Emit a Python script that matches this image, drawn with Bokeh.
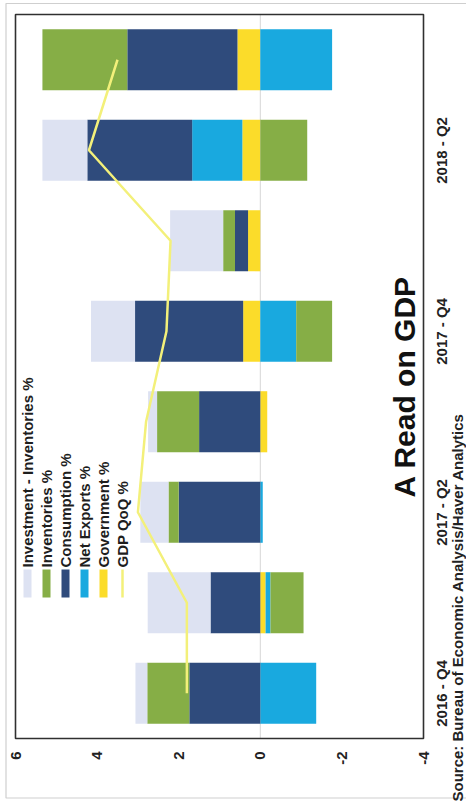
import math

from bokeh.core.properties import value
from bokeh.embed import file_html
from bokeh.models import FixedTicker, Label, LinearAxis, Range1d
from bokeh.plotting import figure
from bokeh.resources import INLINE

# ---- data: contributions to real GDP growth (percentage points) ----
quarters = ["2016 - Q4", "2017 - Q1", "2017 - Q2", "2017 - Q3",
            "2017 - Q4", "2018 - Q1", "2018 - Q2", "2018 - Q3"]
government = [0.0, -0.13, 0.0, -0.17, 0.42, 0.30, 0.44, 0.56]
net_exports = [-1.37, -0.12, -0.06, 0.0, -0.88, 0.0, 1.23, -1.76]
consumption = [1.74, 1.22, 2.00, 1.50, 2.65, 0.32, 2.57, 2.70]
inventories = [1.03, -0.81, 0.25, 1.03, -0.88, 0.29, -1.15, 2.08]
investment_ex_inv = [0.29, 1.54, 0.69, 0.22, 1.08, 1.30, 1.10, 0.0]
gdp_qoq = [1.8, 1.8, 3.0, 2.8, 2.3, 2.2, 4.2, 3.5]
value_ticks = [6, 4, 2, 0, -2, -4]
legend_labels = ["Investment - Inventories %", "Inventories %", "Consumption %",
                 "Net Exports %", "Government %", "GDP QoQ %"]
source_note = "Source: Bureau of Economic Analysis/Haver Analytics"

# ---- styling ----
C_INVEST = "#dde2f2"
C_INV = "#86ae46"
C_CONS = "#2f4b7c"
C_NX = "#19a9df"
C_GOV = "#fbdc2a"
C_GDP = "#f3f07a"
C_BOX = "#303030"
FONT = value("Liberation Sans")

# The plotting frame fills the whole canvas; the boxed chart area sits inside it
# so that the rotated tick labels and the source note can be placed freely.
W, H = 466, 803
BOX_L, BOX_T, BOX_W, BOX_H = 15, 14, 408, 724
X0, X1 = 6, -4          # value axis runs right-to-left
Y0, Y1 = -0.5, len(quarters) - 0.5
PX_PER_X = BOX_W / (X0 - X1)
PX_PER_Y = BOX_H / (Y1 - Y0)


def sx(px):
    """canvas pixel column -> value coordinate"""
    return X0 - (px - BOX_L) / PX_PER_X


def sy(py):
    """canvas pixel row -> quarter-index coordinate"""
    return Y1 - (py - BOX_T) / PX_PER_Y


p = figure(width=W, height=H,
           x_range=Range1d(sx(0), sx(W)), y_range=Range1d(sy(H), sy(0)),
           y_axis_location="right",
           output_backend="svg", toolbar_location=None,
           min_border=0, min_border_left=0, min_border_right=0,
           min_border_top=0, min_border_bottom=0,
           background_fill_color="white", border_fill_color="white")
p.grid.visible = False
p.outline_line_color = None

# page edge
p.quad(left=[sx(5.5)], right=[sx(W + 10)], top=[sy(3)], bottom=[sy(797.5)],
       fill_color=None, line_color="#cfcfcf", line_width=1.2)

# zero line
p.segment(x0=[0], y0=[Y0], x1=[0], y1=[Y1], line_color="#d6d6d6", line_width=1)

# ---- stacked bars: positives and negatives stacked separately ----
idx = list(range(len(quarters)))
stack = [(government, C_GOV), (net_exports, C_NX), (consumption, C_CONS),
         (inventories, C_INV), (investment_ex_inv, C_INVEST)]
pos = [0.0] * len(quarters)
neg = [0.0] * len(quarters)
for vals, color in stack:
    left, right = [], []
    for i, v in enumerate(vals):
        if v >= 0:
            start = pos[i]
            pos[i] += v
        else:
            start = neg[i]
            neg[i] += v
        left.append(start)
        right.append(start + v)
    p.hbar(y=idx, left=left, right=right, height=0.675,
           fill_color=color, line_color=None)

# GDP growth line
p.line(x=gdp_qoq, y=idx, line_color=C_GDP, line_width=2.5)

# chart box
p.quad(left=[X0], right=[X1], top=[Y1], bottom=[Y0],
       fill_color=None, line_color=C_BOX, line_width=1.6)


def plain_axis(ax, standoff, size="15px"):
    ax.axis_line_color = None
    ax.major_tick_line_color = None
    ax.minor_tick_line_color = None
    ax.major_tick_out = 0
    ax.major_tick_in = 0
    ax.major_label_orientation = math.pi / 2
    ax.major_label_standoff = standoff
    ax.major_label_text_font = "Liberation Sans"
    ax.major_label_text_font_style = "bold"
    ax.major_label_text_font_size = size
    ax.major_label_text_color = "#222222"


# ---- axes, pinned to the chart box edges ----
xa = p.xaxis[0]
xa.ticker = FixedTicker(ticks=value_ticks)
xa.major_label_overrides = {v: f"{v:g}" for v in value_ticks}
xa.fixed_location = Y0
plain_axis(xa, 13)

# quarter labels on every other bar; rotated labels start at their tick,
# so each tick sits half a label length below the bar centre
ya = p.yaxis[0]
half_label = 33.5 / PX_PER_Y
label_rows = list(range(0, len(quarters), 2))
label_ticks = [i - half_label for i in label_rows]
ya.ticker = FixedTicker(ticks=label_ticks)
ya.major_label_overrides = {t: quarters[i] for t, i in zip(label_ticks, label_rows)}
ya.fixed_location = X1
plain_axis(ya, 18)

# source note, set as the single label of an outer right-hand axis
SRC_TICK = sy(801)
src_axis = LinearAxis(ticker=FixedTicker(ticks=[SRC_TICK]),
                      major_label_overrides={SRC_TICK: source_note},
                      fixed_location=X1)
plain_axis(src_axis, 34, "15px")
p.add_layout(src_axis, "right")

# ---- legend (rotated, drawn with glyphs) ----
leg_px = [27, 46, 65, 84, 103, 122]
leg_colors = [C_INVEST, C_INV, C_CONS, C_NX, C_GOV]
p.text(x=[sx(v) for v in leg_px], y=[sy(567)] * len(leg_px), text=legend_labels,
       angle=math.pi / 2, text_align="left", text_baseline="middle",
       text_font=FONT, text_font_style="bold", text_font_size="15px",
       text_color="#1e1e1e")
p.rect(x=[sx(v) for v in leg_px[:5]], y=[sy(583)] * 5, width=8, height=28,
       width_units="screen", height_units="screen",
       fill_color=leg_colors, line_color=None)
p.segment(x0=[sx(leg_px[5])], y0=[sy(569)], x1=[sx(leg_px[5])], y1=[sy(597)],
          line_color=C_GDP, line_width=2.5)

# ---- title ----
p.add_layout(Label(x=sx(404), y=sy(497), text="A Read on GDP", angle=math.pi / 2,
                   text_align="left", text_baseline="middle",
                   text_font="Liberation Sans", text_font_style="bold",
                   text_font_size="30px", text_color="#111111"))

open("out.html", "w").write(file_html(p, INLINE))
